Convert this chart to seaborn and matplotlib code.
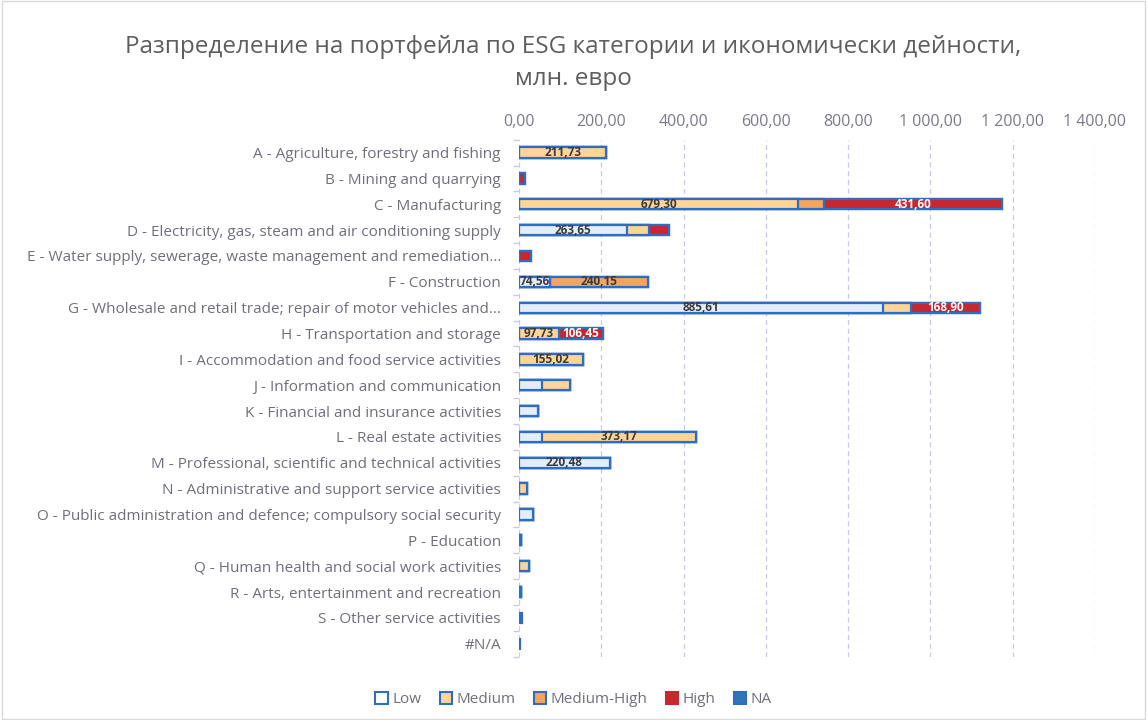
import numpy as np
import pandas as pd
import matplotlib.pyplot as plt
import seaborn as sns
from matplotlib.patches import Patch

# Portfolio by ESG category and economic activity, mln EUR
sectors = [
    "A - Agriculture, forestry and fishing",
    "B - Mining and quarrying",
    "C - Manufacturing",
    "D - Electricity, gas, steam and air conditioning supply",
    "E - Water supply, sewerage, waste management and remediation...",
    "F - Construction",
    "G - Wholesale and retail trade; repair of motor vehicles and...",
    "H - Transportation and storage",
    "I - Accommodation and food service activities",
    "J - Information and communication",
    "K - Financial and insurance activities",
    "L - Real estate activities",
    "M - Professional, scientific and technical activities",
    "N - Administrative and support service activities",
    "O - Public administration and defence; compulsory social security",
    "P - Education",
    "Q - Human health and social work activities",
    "R - Arts, entertainment and recreation",
    "S - Other service activities",
    "#N/A",
]
low = [0, 0, 0, 263.65, 0, 74.56, 885.61, 0, 0, 55, 45, 57, 220.48, 0, 35, 6, 0, 5, 0, 0]
medium = [211.73, 0, 679.30, 52, 0, 0, 66.5, 97.73, 155.02, 68, 0, 373.17, 0, 20, 0, 0, 25, 0, 0, 0]
medium_high = [0, 0, 63, 0, 0, 240.15, 0, 0, 0, 0, 0, 0, 0, 0, 0, 0, 0, 0, 0, 0]
high = [0, 15, 431.60, 48, 28, 0, 168.90, 106.45, 0, 0, 0, 0, 0, 0, 0, 0, 0, 0, 0, 0]
na = [0, 0, 0, 0, 0, 0, 0, 0, 0, 0, 0, 0, 0, 0, 0, 0, 0, 0, 8, 3]

series = ["Low", "Medium", "Medium-High", "High", "NA"]
colors = ["#E4EEF9", "#FFD597", "#F5A45C", "#C9262E", "#2E75B6"]
edge = "#2F6CC4"

df = pd.DataFrame({"sector": sectors, "Low": low, "Medium": medium,
                   "Medium-High": medium_high, "High": high, "NA": na})
cum = df[series].cumsum(axis=1)

def fmt(v):
    s = f"{v:,.2f}"
    return s.replace(",", " ").replace(".", ",")

plt.rcParams["font.family"] = ["Open Sans", "DejaVu Sans"]
fig = plt.figure(figsize=(11.47, 7.2), dpi=100)
ax = fig.add_axes([0.4525, 0.088, 0.502, 0.718])

# stacked bars drawn back to front from the cumulative totals
for s, c in zip(series[::-1], colors[::-1]):
    sns.barplot(data=cum.assign(sector=df["sector"]), x=s, y="sector", color=c,
                edgecolor=edge, linewidth=1.6, width=0.4, orient="h", ax=ax,
                saturation=1)

# value labels on the big segments
labels = [
    (0, "Medium"), (2, "Medium"), (2, "High"), (3, "Low"), (5, "Low"),
    (5, "Medium-High"), (6, "Low"), (6, "High"), (7, "Medium"), (7, "High"),
    (8, "Medium"), (11, "Medium"), (12, "Low"),
]
for i, s in labels:
    v = df.loc[i, s]
    right = cum.loc[i, s]
    tc = "white" if s == "High" else "#3A3A3A"
    ax.text(right - v / 2, i, fmt(v), ha="center", va="center",
            fontsize=8.5, color=tc, fontweight="bold")

ax.set_xlim(0, 1400)
ax.set_xticks(np.arange(0, 1401, 200))
ax.set_xticklabels([fmt(t) for t in range(0, 1401, 200)], fontsize=11.5, color="#7A7A8A")
ax.xaxis.tick_top()
ax.tick_params(axis="x", length=0, pad=7)
ax.tick_params(axis="y", length=0, labelsize=11, labelcolor="#6E6E7E", pad=13)
ax.set_yticks(np.arange(-0.5, 20, 1), minor=True)
ax.tick_params(axis="y", which="minor", length=4, color="#C5C8F0", width=1)
ax.set_xlabel("")
ax.set_ylabel("")
ax.grid(axis="x", color="#C5C8F0", linestyle=(0, (4, 3)), linewidth=0.9)
ax.set_axisbelow(True)
for sp in ax.spines.values():
    sp.set_visible(False)
ax.set_ylim(19.5, -0.5)

fig.text(0.5, 0.935, "Разпределение на портфейла по ESG категории и икономически дейности,",
         ha="center", va="center", fontsize=17.5, color="#5E5E5E")
fig.text(0.5, 0.89, "млн. евро", ha="center", va="center", fontsize=17.5, color="#5E5E5E")

handles = [Patch(facecolor=c, edgecolor=edge if s != "High" else c, linewidth=1.5, label=s)
           for s, c in zip(series, colors)]
handles[0].set_facecolor("white")
fig.legend(handles=handles, loc="center", bbox_to_anchor=(0.5, 0.028), ncol=5,
           frameon=False, fontsize=11, labelcolor="#6E6E7E", handlelength=0.8,
           handleheight=0.8, handletextpad=0.3, columnspacing=1.2)

fig.patches.append(plt.Rectangle((0.002, 0.002), 0.996, 0.996, transform=fig.transFigure,
                                 fill=False, edgecolor="#D9D9D9", linewidth=1))
fig.savefig("out.png", dpi=100)
